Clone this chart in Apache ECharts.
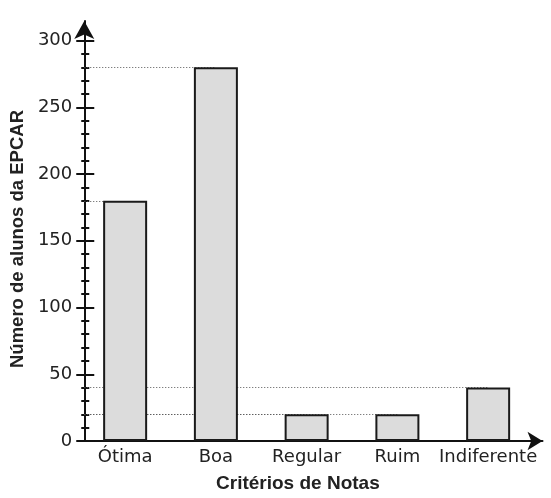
<!DOCTYPE html>
<html><head><meta charset="utf-8">
<script src="https://cdn.jsdelivr.net/npm/echarts@6/dist/echarts.min.js"></script>
<style>html,body{margin:0;padding:0;background:#fff}#c{width:551px;height:498px}</style>
</head><body><div id="c"></div>
<script>
const categories = ['Ótima', 'Boa', 'Regular', 'Ruim', 'Indiferente'];
const values = [180, 280, 20, 20, 40];
const yMajorTicks = [0, 50, 100, 150, 200, 250, 300];
const yMinorTicks = [10,20,30,40,60,70,80,90,110,120,130,140,160,170,180,190,210,220,230,240,260,270,280,290];
const xTitle = 'Critérios de Notas';
const yTitle = 'Número de alunos da EPCAR';

const X_MIN = -0.4505, X_MAX = 4.599, Y_MAX = 314.7;
const tickFont = 'DejaVu Sans';
const titleFont = 'Liberation Sans';

const chart = echarts.init(document.getElementById('c'), null, {renderer: 'canvas'});
const helperY = (offset, len, vals) => ({
  type: 'value', min: 0, max: Y_MAX, offset: offset, position: 'left',
  axisLine: {show: false, onZero: false},
  axisLabel: {show: false},
  splitLine: {show: false},
  axisTick: {show: true, inside: true, length: len, customValues: vals,
    lineStyle: {color: '#111', width: 2}}
});
chart.setOption({
  animation: false,
  grid: {left: 83, right: 8.5, top: 21, bottom: 49, containLabel: false},
  xAxis: {
    type: 'value', min: X_MIN, max: X_MAX,
    name: xTitle, nameLocation: 'middle', nameGap: 33,
    nameTextStyle: {fontFamily: titleFont, fontWeight: 'bold', fontSize: 19, color: '#222', padding: [0, 31, 0, 0]},
    axisLine: {show: true, onZero: false, symbol: ['none', 'arrow'], symbolSize: [14, 15],
      lineStyle: {color: '#111', width: 2}},
    axisTick: {show: false},
    splitLine: {show: false},
    axisLabel: {customValues: categories.map((c, i) => i), formatter: v => categories[Math.round(v)],
      fontFamily: tickFont, fontSize: 18, color: '#222', margin: 7}
  },
  yAxis: [{
    type: 'value', min: 0, max: Y_MAX, position: 'left',
    name: yTitle, nameLocation: 'middle', nameGap: 51,
    nameTextStyle: {fontFamily: titleFont, fontWeight: 'bold', fontSize: 18.5, color: '#222', padding: [0, 16, 0, 0]},
    axisLine: {show: true, onZero: false, symbol: ['none', 'arrow'], symbolSize: [15, 18],
      lineStyle: {color: '#111', width: 2}},
    axisTick: {show: false},
    splitLine: {show: false},
    axisLabel: {customValues: yMajorTicks, fontFamily: tickFont, fontSize: 18, color: '#222', margin: 12}
  }, helperY(8, 18, yMajorTicks), helperY(3, 8, yMinorTicks)],
  series: [{
    type: 'bar', z: 2,
    data: values.map((v, i) => [i, v]),
    barWidth: 44,
    itemStyle: {color: '#dcdcdc', borderColor: '#1a1a1a', borderWidth: 2},
    markLine: {
      z: 1, silent: true, symbol: ['none', 'none'], label: {show: false},
      lineStyle: {type: [1, 2], color: '#555', width: 1},
      data: values.map((v, i) => [{coord: [X_MIN, v]}, {coord: [i, v]}])
    }
  }]
});
</script></body></html>
